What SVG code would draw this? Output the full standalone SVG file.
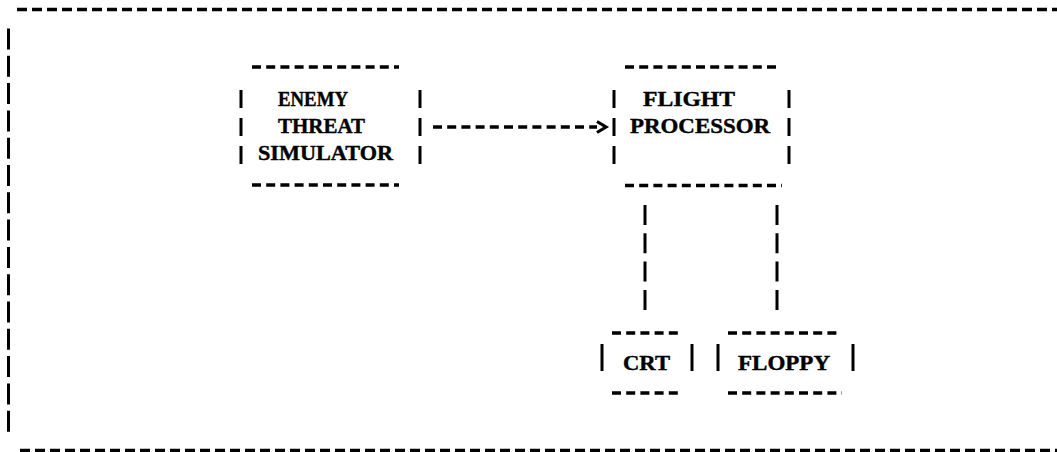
<svg xmlns="http://www.w3.org/2000/svg" width="1057" height="452" viewBox="0 0 1057 452">
<style>
.dh{stroke:#000;stroke-width:3.5;fill:none;stroke-dasharray:9 5.2}
.bar{stroke:#000;stroke-width:3;fill:none}
.vb{stroke:#000;stroke-width:3;fill:none;stroke-dasharray:21 6.3}
.t{font-family:"Liberation Serif","Times New Roman",serif;font-weight:bold;font-size:21px;fill:#000;stroke:#000;stroke-width:0.4}
</style>
<rect width="1057" height="452" fill="#fff"/>
<g id="frame">
<line class="dh" x1="17" y1="9.5" x2="1057" y2="9.5" style="stroke-dasharray:10 5"/>
<line class="vb" x1="8.5" y1="28.5" x2="8.5" y2="432" style="stroke-dasharray:21 6.3"/>
<line class="dh" x1="20" y1="451" x2="1057" y2="451" style="stroke-dasharray:10 5;stroke-width:4.5"/>
</g>
<g id="node-enemy">
<line class="dh" x1="252" y1="67" x2="399" y2="67"/>
<line class="dh" x1="252" y1="185" x2="399" y2="185"/>
<line class="vb" x1="241" y1="90" x2="241" y2="166" style="stroke-dasharray:18 10"/>
<line class="vb" x1="420" y1="90" x2="420" y2="166" style="stroke-dasharray:18 10"/>
<text class="t" x="278" y="106" textLength="70" lengthAdjust="spacingAndGlyphs">ENEMY</text>
<text class="t" x="278" y="133" textLength="87" lengthAdjust="spacingAndGlyphs">THREAT</text>
<text class="t" x="258" y="160" textLength="135" lengthAdjust="spacingAndGlyphs">SIMULATOR</text>
</g>
<g id="node-flight">
<line class="dh" x1="625" y1="67" x2="781" y2="67"/>
<line class="dh" x1="625" y1="185.5" x2="782" y2="185.5"/>
<line class="vb" x1="614" y1="90" x2="614" y2="166" style="stroke-dasharray:18 10"/>
<line class="vb" x1="789" y1="90" x2="789" y2="166" style="stroke-dasharray:18 10"/>
<text class="t" x="643" y="106" textLength="92" lengthAdjust="spacingAndGlyphs">FLIGHT</text>
<text class="t" x="630" y="133" textLength="140" lengthAdjust="spacingAndGlyphs">PROCESSOR</text>
</g>
<g id="node-crt">
<line class="dh" x1="612" y1="333" x2="680" y2="333"/>
<line class="dh" x1="612" y1="393" x2="679" y2="393"/>
<line class="bar" x1="602" y1="344" x2="602" y2="371"/>
<line class="bar" x1="692" y1="344" x2="692" y2="371"/>
<text class="t" x="623" y="370" textLength="47" lengthAdjust="spacingAndGlyphs">CRT</text>
</g>
<g id="node-floppy">
<line class="dh" x1="728" y1="333" x2="841" y2="333"/>
<line class="dh" x1="728" y1="393" x2="842" y2="393"/>
<line class="bar" x1="718" y1="344" x2="718" y2="371"/>
<line class="bar" x1="853" y1="344" x2="853" y2="371"/>
<text class="t" x="738" y="370" textLength="92" lengthAdjust="spacingAndGlyphs">FLOPPY</text>
</g>
<g id="connectors">
<line class="dh" x1="433" y1="127" x2="597" y2="127"/>
<polyline points="597,121.5 606,127 597,132.5" fill="none" stroke="#000" stroke-width="3.2"/>
<line class="vb" x1="645" y1="205" x2="645" y2="314" style="stroke-dasharray:20 8.3"/>
<line class="vb" x1="777" y1="205" x2="777" y2="314" style="stroke-dasharray:20 8.3"/>
</g>
</svg>
